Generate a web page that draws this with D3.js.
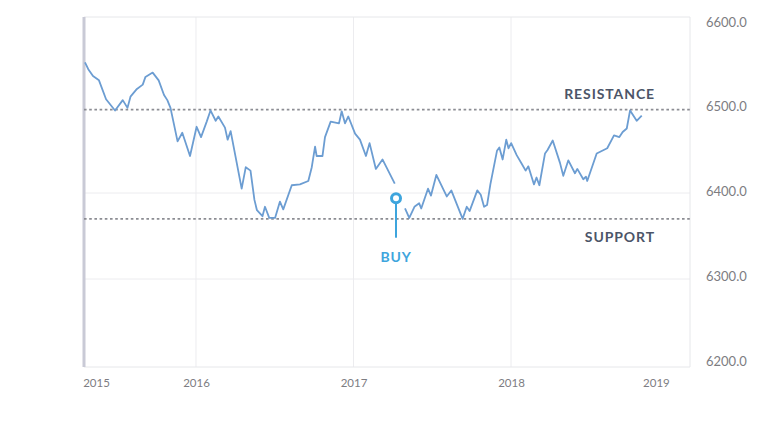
<!DOCTYPE html>
<html>
<head>
<meta charset="utf-8">
<script src="https://cdn.jsdelivr.net/npm/d3@7"></script>
<style>
  html, body { margin: 0; padding: 0; background: #fff; }
  svg { display: block; }
  text { font-family: Lato, "Open Sans", sans-serif; }
</style>
</head>
<body>
<svg id="chart" width="762" height="428"></svg>
<script>
// ---- data (decimal year, price) ----
const dates1 = [2015.295,2015.316,2015.346,2015.384,2015.429,2015.486,2015.535,2015.565,2015.584,2015.625,
  2015.662,2015.679,2015.725,2015.763,2015.797,2015.818,2015.838,2015.883,2015.913,2015.962,
  2016.004,2016.032,2016.068,2016.092,2016.125,2016.142,2016.184,2016.201,2016.220,2016.290,
  2016.316,2016.346,2016.371,2016.387,2016.422,2016.438,2016.465,2016.502,2016.533,2016.554,
  2016.608,2016.660,2016.713,2016.735,2016.756,2016.766,2016.803,2016.819,2016.855,2016.908,
  2016.925,2016.946,2016.967,2017.010,2017.041,2017.079,2017.102,2017.142,2017.184,2017.262];
const values1 = [6552,6544,6536,6531,6509,6496,6508,6499,6512,6521,
  6526,6535,6540,6531,6514,6508,6499,6460,6470,6443,
  6477,6465,6483,6496,6484,6489,6476,6462,6472,6405,
  6430,6426,6392,6380,6373,6384,6371,6371,6390,6381,
  6409,6410,6414,6430,6454,6443,6443,6465,6483,6481,
  6495,6481,6489,6469,6462,6443,6458,6428,6439,6411];
const dates2 = [2017.327,2017.354,2017.387,2017.417,2017.430,2017.473,2017.492,2017.526,2017.592,2017.621,
  2017.693,2017.719,2017.737,2017.786,2017.808,2017.829,2017.848,2017.869,2017.911,2017.926,
  2017.947,2017.970,2017.984,2018.001,2018.036,2018.068,2018.093,2018.110,2018.146,2018.162,
  2018.180,2018.216,2018.232,2018.265,2018.311,2018.332,2018.364,2018.406,2018.421,2018.459,
  2018.476,2018.484,2018.544,2018.611,2018.654,2018.688,2018.709,2018.735,2018.756,2018.798,2018.830];
const values2 = [6382,6371,6384,6388,6382,6405,6397,6421,6396,6403,
  6370,6384,6379,6403,6398,6384,6386,6410,6449,6453,
  6439,6462,6452,6458,6444,6434,6426,6431,6410,6418,
  6409,6446,6450,6461,6435,6420,6438,6423,6428,6416,
  6419,6414,6446,6452,6467,6465,6471,6475,6496,6484,6490];

const yTicks = [6600, 6500, 6400, 6300, 6200];
const yGrid = [6400, 6300];
const xGridYears = [2016, 2017, 2018];
const xTickLabels = ["2015", "2016", "2017", "2018", "2019"];
const xTickValues = [2015.365, 2016, 2017, 2018, 2018.92];

const resistanceLevel = 6497;
const supportLevel = 6370;
const buyDate = 2017.27, buyValue = 6394, buyStemEnd = 6348;

// ---- layout ----
const svg = d3.select("#chart");
const plotLeft = 84, plotRight = 690, plotTop = 17, plotBottom = 367;
const x = d3.scaleLinear().domain([2015.2889, 2019.1365]).range([plotLeft, plotRight]);
const y = d3.scaleLinear().domain([6200, 6600]).range([365, 21]);
const yLabel = y.copy().range([361, 22]);

const gridColor = "#ececef";

// horizontal grid
svg.append("g").selectAll("line").data(yGrid).join("line")
  .attr("x1", plotLeft).attr("x2", plotRight)
  .attr("y1", d => y(d)).attr("y2", d => y(d))
  .attr("stroke", gridColor).attr("stroke-width", 1);

// vertical grid
svg.append("g").selectAll("line").data(xGridYears).join("line")
  .attr("x1", d => x(d)).attr("x2", d => x(d))
  .attr("y1", plotTop).attr("y2", plotBottom)
  .attr("stroke", gridColor).attr("stroke-width", 1);

// frame (top, right, bottom)
svg.append("path")
  .attr("d", `M${plotLeft},${plotTop}H${plotRight}V${plotBottom}H${plotLeft}`)
  .attr("fill", "none").attr("stroke", "#e6e7ea").attr("stroke-width", 1);

// left axis bar
svg.append("line")
  .attr("x1", plotLeft).attr("x2", plotLeft).attr("y1", plotTop).attr("y2", plotBottom)
  .attr("stroke", "#c9cad6").attr("stroke-width", 3);

// right axis labels
const yAxis = d3.axisRight(yLabel).tickValues(yTicks).tickFormat(d3.format(".1f")).tickSize(0).tickPadding(0);
const gy = svg.append("g").attr("transform", `translate(706,0)`).call(yAxis);
gy.select(".domain").remove();
gy.selectAll("text").attr("fill", "#7d7d82").attr("font-size", 13).attr("font-family", "Lato, sans-serif");

// bottom axis labels
const xAxis = d3.axisBottom(x).tickValues(xTickValues)
  .tickFormat((d, i) => xTickLabels[i]).tickSize(0).tickPadding(0);
const gx = svg.append("g").attr("transform", `translate(0,379)`).call(xAxis);
gx.select(".domain").remove();
gx.selectAll("text").attr("fill", "#7d7d82").attr("font-size", 11.5).attr("font-family", "Lato, sans-serif");

// resistance & support
[resistanceLevel, supportLevel].forEach(v => {
  svg.append("line")
    .attr("x1", plotLeft).attr("x2", plotRight)
    .attr("y1", y(v)).attr("y2", y(v))
    .attr("stroke", "#8c8d93").attr("stroke-width", 1.8)
    .attr("stroke-dasharray", "2.6,2.6");
});
svg.append("text").text("RESISTANCE")
  .attr("x", 655).attr("y", y(resistanceLevel) - 11)
  .attr("text-anchor", "end").attr("font-size", 14).attr("font-weight", 700)
  .attr("fill", "#4c5568").attr("letter-spacing", 0.9);
svg.append("text").text("SUPPORT")
  .attr("x", 655).attr("y", y(supportLevel) + 23)
  .attr("text-anchor", "end").attr("font-size", 14).attr("font-weight", 700)
  .attr("fill", "#4c5568").attr("letter-spacing", 0.9);

// price line
const line = d3.line().x(d => x(d[0])).y(d => y(d[1]));
[[dates1, values1], [dates2, values2]].forEach(([ds, vs]) => {
  svg.append("path")
    .datum(ds.map((d, i) => [d, vs[i]]))
    .attr("d", line)
    .attr("fill", "none")
    .attr("stroke", "#6c9dd2").attr("stroke-width", 1.8)
    .attr("stroke-linejoin", "round");
});

// BUY marker
const buyColor = "#3ea5dd";
svg.append("line")
  .attr("x1", x(buyDate)).attr("x2", x(buyDate))
  .attr("y1", y(buyValue) + 5).attr("y2", y(buyStemEnd))
  .attr("stroke", buyColor).attr("stroke-width", 2);
svg.append("circle")
  .attr("cx", x(buyDate)).attr("cy", y(buyValue)).attr("r", 4.5)
  .attr("fill", "#fff").attr("stroke", buyColor).attr("stroke-width", 3);
svg.append("text").text("BUY")
  .attr("x", x(buyDate)).attr("y", y(buyStemEnd) + 24)
  .attr("text-anchor", "middle").attr("font-size", 14).attr("font-weight", 700)
  .attr("fill", buyColor).attr("letter-spacing", 0.8);
</script>
</body>
</html>
